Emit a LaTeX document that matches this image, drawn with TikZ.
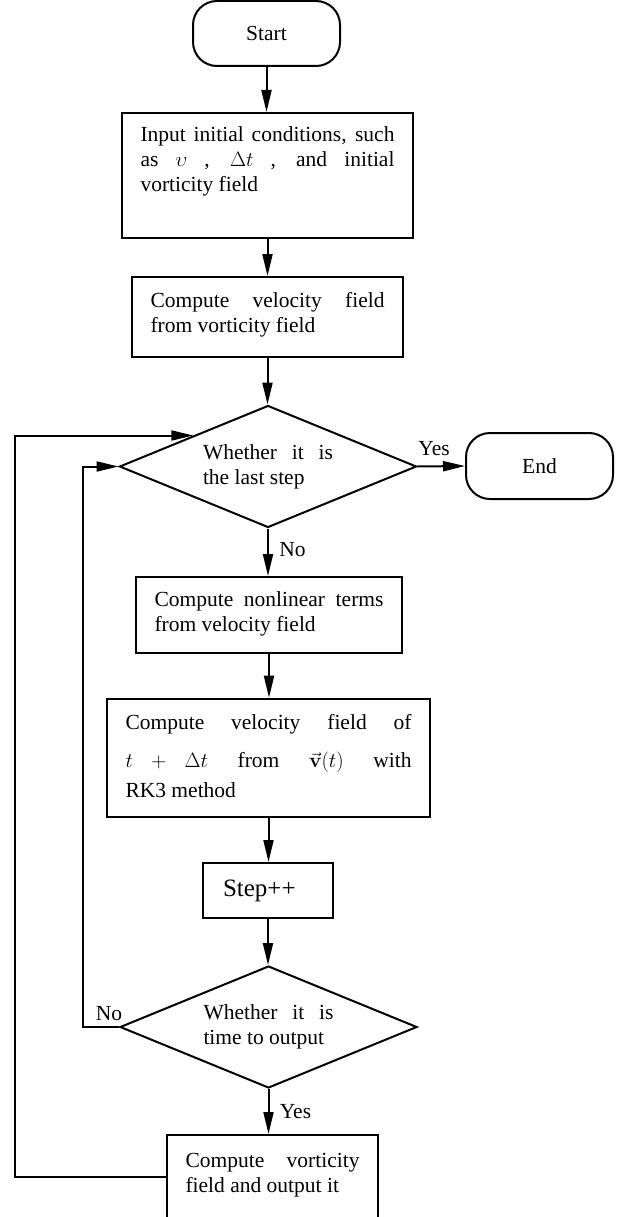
\documentclass[tikz,border=0pt]{standalone}
\usepackage[no-math]{fontspec}
\setmainfont{Liberation Serif}
\usetikzlibrary{arrows.meta, shapes.geometric}
\tolerance=10000
\hyphenpenalty=10000
\hbadness=10000

\begin{document}
\begin{tikzpicture}[
    x=1pt, y=-1pt,
    line width=2pt,
    every node/.append style={font=\fontsize{21.5}{25}\selectfont},
    terminal/.style={draw, rounded corners=24pt, minimum width=147pt, minimum height=65pt, inner sep=0},
    procbox/.style={draw, rectangle, inner xsep=18.5pt, inner ysep=0, align=justify},
    decision/.style={draw, diamond, aspect=2.43, minimum width=297pt, minimum height=122pt, inner sep=0, text width=130pt, align=justify},
    arrow/.style={-{Triangle[length=22pt, width=10pt]}},
  ]
  \useasboundingbox (0,0) rectangle (625,1217);

  \node [terminal] (start) at (266.5, 33.5) {Start};
  \node [procbox, text width=254pt] (input) at (267.5, 175.5) {\rule{0pt}{29pt}Input initial conditions, such\linebreak as $\upsilon$ , $\Delta t$ , and initial\linebreak vorticity field\rule[-46pt]{0pt}{0pt}};
  \node [procbox, text width=234pt] (velo) at (267.5, 317) {\rule{0pt}{30pt}Compute velocity field\linebreak from vorticity field\rule[-25pt]{0pt}{0pt}};
  \node [decision] (dia1) at (268, 466.5) {Whether it is\linebreak the last step};
  \node [terminal, minimum height=66pt] (end) at (539.5, 466) {End};
  \node [procbox, text width=229pt] (nonlin) at (269, 615) {\rule{0pt}{29pt}Compute nonlinear terms\linebreak from velocity field\rule[-22pt]{0pt}{0pt}};
  \node [procbox, text width=286pt] (rk) at (268.5, 758) {\rule{0pt}{31pt}Compute velocity field of\linebreak \rule[-14pt]{0pt}{46pt}$t\mkern16mu{+}\mkern16mu\Delta t$ from $\vec{\mathbf{v}}(t)$ with\linebreak RK3 method\rule[-20pt]{0pt}{0pt}};
  \node [procbox, align=left, text width=90pt, minimum height=55pt, inner xsep=20pt, font=\fontsize{25}{29}\selectfont] (stepinc) at (268, 890.5) {Step++};
  \node [decision] (dia2) at (268.5, 1027) {Whether it is\linebreak time to output};
  \node [procbox, text width=174pt] (outbox) at (272.5, 1177) {\rule{0pt}{32pt}Compute vorticity\linebreak field and output it\rule[-27pt]{0pt}{0pt}};

  \coordinate (innerx) at (83, 0);
  \coordinate (outerx) at (15, 0);

  % Main flow
  \foreach \a/\b in {start/input, input/velo, velo/dia1, nonlin/rk, rk/stepinc, stepinc/dia2}{%
    \draw [arrow] (\a.south) -- (\a.south |- \b.north);
  };
  \draw [arrow] (dia1.south) -- node [right=7pt, pos=0.45] {No} (dia1.south |- nonlin.north);
  \draw [arrow] (dia1.east) -- node [above=6pt, pos=0.35] {Yes} (end.west);
  \draw [arrow] (dia2.south) -- node [right=7pt, pos=0.5] {Yes} (dia2.south |- outbox.north);

  % Loops back to the first test
  \draw [arrow] (dia2.west) -- node [above=2pt, pos=0.28] {No} (dia2.west -| innerx) |- (dia1.west);
  \draw [arrow] (outbox.west) -- (outbox.west -| outerx) |- (dia1.north west);
\end{tikzpicture}
\end{document}
